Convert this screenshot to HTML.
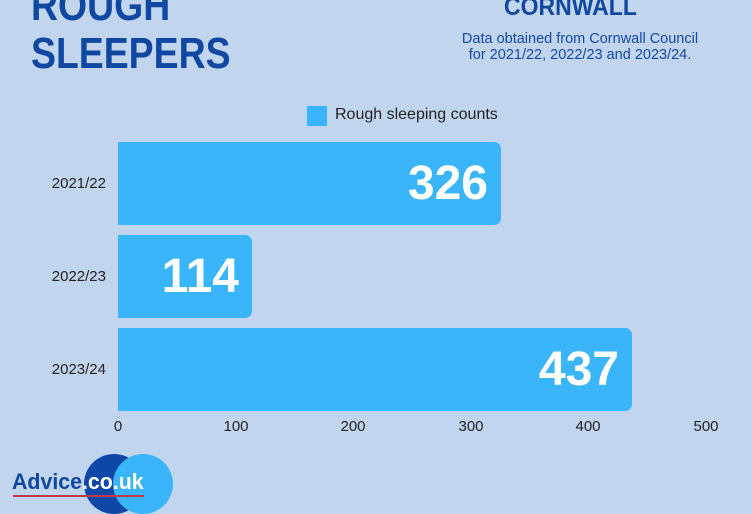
<!DOCTYPE html>
<html><head><style>
body{margin:0;width:752px;height:500px;background:#c1d5ee;position:relative;overflow:hidden;font-family:"Liberation Sans",sans-serif}
.a{position:absolute;white-space:nowrap}
.bar{position:absolute;left:118px;height:83px;background:#3bb5f9;border-radius:0 7px 7px 0}
.num{position:absolute;color:#fff;font-weight:bold;font-size:48px;line-height:83px;right:13px;top:0}
.yl{position:absolute;right:646px;font-size:15px;color:#222}
.tk{position:absolute;top:418px;font-size:15px;color:#222;width:60px;text-align:center}
</style></head><body>
<div class="a" style="left:31px;top:-18px;font-size:44px;font-weight:bold;color:#0f47a1;line-height:48px;transform:scaleX(0.85);transform-origin:left top">ROUGH<br>SLEEPERS</div>
<div class="a" style="left:504px;top:-7px;font-size:25px;font-weight:bold;color:#0f47a1;transform:scaleX(0.92);transform-origin:left top">CORNWALL</div>
<div class="a" style="left:430px;width:300px;text-align:center;top:31px;font-size:14.5px;color:#1448a8;line-height:16px">Data obtained from Cornwall Council<br>for 2021/22, 2022/23 and 2023/24.</div>
<div class="a" style="left:307px;top:106px;width:20px;height:20px;background:#3bb5f9"></div>
<div class="a" style="left:335px;top:106px;font-size:16px;color:#222">Rough sleeping counts</div>
<div class="bar" style="top:142px;width:383px"><div class="num">326</div></div>
<div class="bar" style="top:235px;width:134px"><div class="num">114</div></div>
<div class="bar" style="top:328px;width:514px"><div class="num">437</div></div>
<div class="yl" style="top:175px">2021/22</div>
<div class="yl" style="top:268px">2022/23</div>
<div class="yl" style="top:361px">2023/24</div>
<div class="tk" style="left:88px">0</div>
<div class="tk" style="left:206px">100</div>
<div class="tk" style="left:323px">200</div>
<div class="tk" style="left:441px">300</div>
<div class="tk" style="left:558px">400</div>
<div class="tk" style="left:676px">500</div>
<div class="a" style="left:84px;top:454px;width:60px;height:60px;border-radius:50%;background:#0d47a8"></div>
<div class="a" style="left:113px;top:454px;width:60px;height:60px;border-radius:50%;background:#3bb5f9"></div>
<div class="a" style="left:12px;top:469px;font-size:22px;font-weight:bold;color:#0f47a1;transform:scaleX(0.97);transform-origin:left top">Advice<span style="color:#fff">.co</span><span style="color:#fff">.uk</span></div>
<div class="a" style="left:13px;top:495px;width:131px;height:2px;background:#c0394b"></div>
</body></html>
